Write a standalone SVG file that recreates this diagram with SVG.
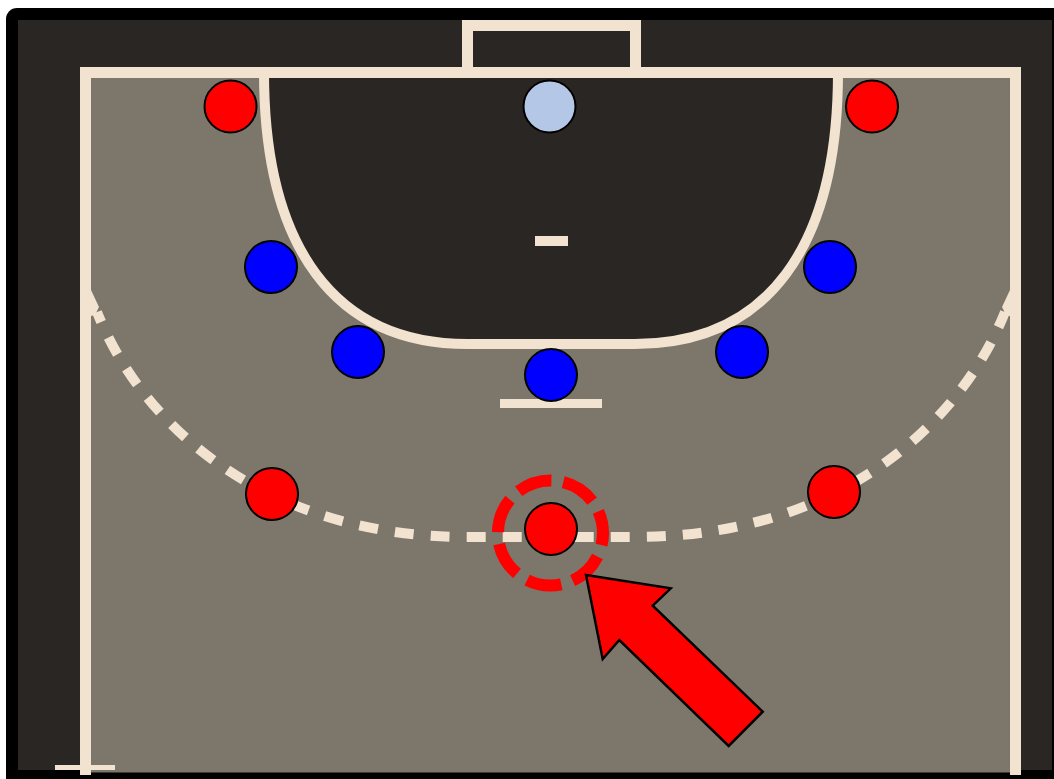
<svg xmlns="http://www.w3.org/2000/svg" width="1054" height="779" viewBox="0 0 1054 779">
<defs>
<style>
.line{fill:none;stroke:#f1e3d0;stroke-width:11;stroke-linejoin:miter}
.mark{fill:#f1e3d0}
.red{fill:#ff0000;stroke:#000;stroke-width:2}
.blue{fill:#0000ff;stroke:#000;stroke-width:2}
.gk{fill:#b4c7e7;stroke:#000;stroke-width:2}
</style>
</defs>
<rect x="0" y="0" width="1054" height="779" fill="#ffffff"/>
<rect x="6" y="8" width="1060" height="790" rx="11" fill="#000000"/>
<rect x="18" y="20" width="1034" height="750" fill="#2a2623"/>
<g id="court">
<rect x="85.5" y="72.5" width="930" height="700" fill="#7d766b"/>
<path d="M264,72 C264,248 335,344 467.5,344 L634.5,344 C767,344 838,248 838,72 Z" fill="#2a2623"/>
<path class="line" d="M85.5,775 L85.5,72.5 L1015.5,72.5 L1015.5,775"/>
<path class="line" d="M467.5,72 L467.5,25.5 L635.5,25.5 L635.5,72"/>
<path class="line" style="stroke-width:10" d="M264,72 C264,248 335,344 467.5,344 L634.5,344 C767,344 838,248 838,72"/>
<path fill="none" stroke="#f1e3d0" stroke-width="10" stroke-dasharray="19 17" stroke-dashoffset="8" d="M97,312 C143,428 267.5,537 467.5,537 L634.5,537 C834.5,537 959,428 1005,312"/>
<polygon class="mark" points="91,290 99,307 95,315 91,316"/>
<polygon class="mark" points="1010,290 1002,307 1006,315 1010,316"/>
<rect class="mark" x="500" y="399" width="102" height="9"/>
<rect class="mark" x="535" y="236" width="33" height="10"/>
<rect class="mark" x="55" y="765" width="60" height="5"/>
</g>
<g id="gk"><circle class="gk" cx="549.5" cy="106.5" r="26"/></g>
<g id="red-wing-left"><circle class="red" cx="230.5" cy="106.5" r="26"/></g>
<g id="red-wing-right"><circle class="red" cx="872" cy="106.5" r="26"/></g>
<g id="blue-1"><circle class="blue" cx="271" cy="267" r="26"/></g>
<g id="blue-2"><circle class="blue" cx="830" cy="267" r="26"/></g>
<g id="blue-3"><circle class="blue" cx="358" cy="352" r="26"/></g>
<g id="blue-4"><circle class="blue" cx="742" cy="352" r="26"/></g>
<g id="blue-5"><circle class="blue" cx="551" cy="375" r="26"/></g>
<g id="red-back-left"><circle class="red" cx="272" cy="494" r="26"/></g>
<g id="red-back-right"><circle class="red" cx="834" cy="492" r="26"/></g>
<g id="red-center">
<circle cx="550.5" cy="533" r="52.5" fill="none" stroke="#ff0000" stroke-width="12" stroke-dasharray="35.12 12" stroke-dashoffset="22.8"/>
<circle class="red" cx="551" cy="529" r="26"/>
</g>
<g id="connectors">
<polygon points="586,575 670.7,588.3 652.7,605.7 762.7,711.7 728.7,746 619.3,640 602.7,659" fill="#ff0000" stroke="#000" stroke-width="2.5" stroke-linejoin="miter"/>
</g>
</svg>
